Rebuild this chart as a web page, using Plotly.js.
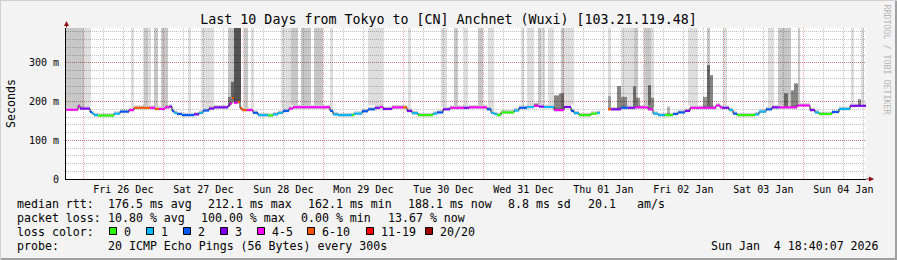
<!DOCTYPE html>
<html><head><meta charset="utf-8">
<script src="https://cdn.plot.ly/plotly-3.0.1.min.js"></script>
<style>html,body{margin:0;padding:0;background:#f3f3f3;}#chart{width:897px;height:260px;}</style>
</head><body><div id="chart"></div>
<script>
// ---------------- DATA (x = hours since Fri 26 Dec 00:00) ----------------
const windowStart = -5.2, windowEnd = 234.8;
const dayLabels = ['Fri 26 Dec','Sat 27 Dec','Sun 28 Dec','Mon 29 Dec','Tue 30 Dec','Wed 31 Dec','Thu 01 Jan','Fri 02 Jan','Sat 03 Jan','Sun 04 Jan'];
const dayNoon = [12,36,60,84,108,132,156,180,204,228];
const yTickVals = [0,100,200,300];
const yTickText = ['0','100 m','200 m','300 m'];

// median rtt segments (start hour, ms, loss class index)
const segStart = [-5.2,-1.6,-1.0,2.0,2.6,3.2,4.4,9.2,11.0,13.7,
 15.2,20.0,21.5,22.7,24.5,25.8,26.6,27.2,28.1,29.6,
 33.2,34.7,35.9,37.7,39.2,43.4,43.9,44.6,45.2,46.3,
 47.0,47.6,49.1,50.9,52.4,55.4,56.9,58.4,59.9,61.7,
 62.9,74.0,74.9,76.4,80.6,81.2,83.6,85.4,87.5,89.0,
 89.9,92.6,95.9,97.1,98.6,100.4,104.9,106.1,107.9,110.0,
 114.2,115.7,121.1,122.3,123.2,124.1,125.3,129.2,130.7,133.1,
 135.2,136.7,138.2,141.2,144.2,146.3,147.2,148.7,152.3,154.1,
 155.0,157.4,158.3,161.3,163.4,165.5,169.4,170.9,172.4,174.5,
 176.9,178.4,180.5,182.0,189.8,191.0,191.6,193.7,194.9,196.1,
 201.5,202.7,204.8,206.6,208.7,214.1,218.0,219.5,220.7,224.6,
 226.7,230.0];
const segMedian = [179,188,182,173,169,165,164,169,174,178,
 184,184,181,181,185,187,176,171,168,165,
 167,171,177,182,185,189,195,209,197,199,
 183,178,178,171,165,164,167,171,176,182,
 185,176,167,165,165,169,175,180,184,186,
 181,185,185,176,170,165,169,172,180,184,
 184,185,180,171,168,165,172,177,184,186,
 189,187,186,178,186,176,170,165,169,171,
 null,180,180,184,184,185,180,169,165,165,
 168,172,176,184,190,185,184,178,169,165,
 167,174,180,185,185,190,178,172,168,173,
 181,189];
const segLoss = [4,4,3,2,1,1,0,1,2,4,
 5,4,5,4,4,3,2,1,2,2,
 3,1,2,3,3,3,4,5,4,5,
 5,5,4,2,1,0,1,1,2,4,
 4,2,1,1,0,1,2,2,3,4,
 3,4,5,3,1,0,1,2,3,4,
 3,4,2,1,1,0,0,1,2,1,
 4,3,1,4,3,2,1,0,0,1,
 0,5,3,2,3,4,4,1,1,0,
 2,2,3,4,4,4,3,1,2,0,
 1,1,2,3,4,4,3,1,0,2,
 1,3];

// periods with lost pings (smoke reaching the top), shade level 1 light / 2 medium
const lossStart = [-5.2,0.2,14.3,18.2,19.4,21.2,23.3,31.4,35.3,43.4,44.3,48.2,50.3,59.3,62.3,65.3,69.2,74.0,85.4,97.4,107.3,111.2,114.2,118.4,121.4,131.3,133.1,136.4,137.3,139.4,143.3,144.2,157.4,161.3,165.2,168.2,170.3,181.4,187.1,191.9,205.4,208.4,214.4,230.3,233.3];
const lossEnd = [0.2,2.3,15.2,19.4,20.3,22.4,25.4,32.3,39.2,44.3,47.3,49.4,51.2,62.3,64.4,68.3,71.9,74.9,89.9,98.3,109.1,112.4,115.4,119.9,123.2,132.2,135.2,137.3,138.5,141.2,144.2,147.2,158.3,165.2,166.4,170.3,171.2,184.4,188.0,193.1,207.2,212.3,215.0,231.2,234.2];
const lossLevel = [2,1,1,2,1,2,2,1,1,2,2,2,1,1,2,2,2,1,1,1,1,2,1,2,1,1,1,2,1,1,2,1,1,1,2,2,1,1,2,1,1,2,2,1,1];

// high-latency smoke spikes (ms top)
const spikeStart = [43.4,44.3,45.2,135.2,141.2,142.7,157.4,160.1,161.3,164.9,165.8,169.4,170.3,175.1,185.9,187.1,188.0,210.2,212.3,213.2,232.4];
const spikeEnd   = [44.3,45.2,47.3,136.4,142.7,144.2,158.3,161.3,163.1,165.8,167.0,170.3,171.2,176.0,187.1,188.0,188.9,211.4,213.2,214.4,233.3];
const spikeTop   = [212,251,390,195,216,221,214,240,212,239,210,242,210,187,212,294,268,221,229,247,206];
const spikeLevel = [2,3,4,2,3,3,1,3,2,3,2,3,2,1,2,3,3,3,3,3,3];

const lossNames = ['0','1','2','3','4-5','6-10','11-19','20/20'];
const lossColors = ['#26ff00','#00b8ff','#0059ff','#7e00ff','#ff00ff','#ff5500','#ff0000','#a10000'];

const titleText = 'Last 10 Days from Tokyo to [CN] Anchnet (Wuxi) [103.21.119.48]';
const rttStats = ['median rtt:','176.5 ms avg','212.1 ms max','162.1 ms min','188.1 ms now','8.8 ms sd','20.1','am/s'];
const lossStats = ['packet loss:','10.80 % avg','100.00 % max','0.00 % min','13.67 % now'];
const probeText = ['probe:','20 ICMP Echo Pings (56 Bytes) every 300s'];
const stampText = 'Sun Jan\u00a0\u00a04 18:40:07 2026';

// ---------------- STYLE / GEOMETRY ----------------
const MONO = '"DejaVu Sans Mono", monospace';
const W = 897, H = 260, L = 66, T = 28, PW = 800, PH = 151;
const SMOKE_DOWN = 4, SMOKE_UP = 6, YMAX = 390;
const lossShade = {1:'rgba(0,0,0,0.13)', 2:'rgba(0,0,0,0.22)'};
const spikeShade = {1:'rgba(0,0,0,0.30)', 2:'rgba(0,0,0,0.40)', 3:'rgba(0,0,0,0.48)', 4:'rgba(0,0,0,0.58)'};
const px2x = p => (p - L) / PW;
const py2y = p => (T + PH - p) / PH;

function segEnd(i){ return i + 1 < segStart.length ? segStart[i+1] : windowEnd; }
function medianAt(h){
  let m = null;
  for (let i = 0; i < segStart.length; i++) { if (segStart[i] <= h) m = segMedian[i]; }
  return m == null ? 180 : m;
}

const traces = [];
// loss columns
(function(){
  const x=[],w=[],b=[],y=[],c=[];
  for (let i=0;i<lossStart.length;i++){
    const base = medianAt((lossStart[i]+lossEnd[i])/2) + SMOKE_UP;
    x.push((lossStart[i]+lossEnd[i])/2); w.push(lossEnd[i]-lossStart[i]);
    b.push(base); y.push(YMAX-base); c.push(lossShade[lossLevel[i]]);
  }
  traces.push({type:'bar',x:x,width:w,base:b,y:y,marker:{color:c,line:{width:0}},hoverinfo:'skip'});
})();
// spikes
(function(){
  const x=[],w=[],b=[],y=[],c=[];
  for (let i=0;i<spikeStart.length;i++){
    const base = medianAt((spikeStart[i]+spikeEnd[i])/2) + 2;
    x.push((spikeStart[i]+spikeEnd[i])/2); w.push(spikeEnd[i]-spikeStart[i]);
    b.push(base); y.push(spikeTop[i]-base); c.push(spikeShade[spikeLevel[i]]);
  }
  traces.push({type:'bar',x:x,width:w,base:b,y:y,marker:{color:c,line:{width:0}},hoverinfo:'skip'});
})();
// smoke band around median
(function(){
  const x=[],w=[],b=[],y=[];
  for (let i=0;i<segStart.length;i++){
    if (segMedian[i]==null) continue;
    const e = segEnd(i);
    x.push((segStart[i]+e)/2); w.push(e-segStart[i]);
    b.push(segMedian[i]-SMOKE_DOWN); y.push(SMOKE_DOWN+SMOKE_UP);
  }
  traces.push({type:'bar',x:x,width:w,base:b,y:y,marker:{color:'rgba(0,0,0,0.2)',line:{width:0}},hoverinfo:'skip'});
})();
// step connectors
(function(){
  const x=[],y=[];
  for (let i=0;i<segStart.length;i++){ x.push(segStart[i]); y.push(segMedian[i]); }
  x.push(windowEnd); y.push(segMedian[segMedian.length-1]);
  traces.push({type:'scatter',mode:'lines',x:x,y:y,line:{shape:'hv',color:'#222',width:1},connectgaps:false,hoverinfo:'skip'});
})();
// coloured median by loss class
for (let k=0;k<lossColors.length;k++){
  const x=[],y=[];
  for (let i=0;i<segStart.length;i++){
    if (segLoss[i]!==k || segMedian[i]==null) continue;
    x.push(segStart[i], segEnd(i), null); y.push(segMedian[i], segMedian[i], null);
  }
  if (x.length) traces.push({type:'scatter',mode:'lines',x:x,y:y,line:{color:lossColors[k],width:2},hoverinfo:'skip'});
}
// carrier for the label axis
traces.push({type:'scatter',mode:'markers',x:[dayNoon[0]],y:[0],xaxis:'x2',marker:{opacity:0},hoverinfo:'skip'});

// ---------------- ANNOTATIONS / SHAPES ----------------
const ann = [];
function txt(s, px, py, o){
  o = o || {};
  ann.push(Object.assign({text:s, x:px2x(px), y:py2y(py), xref:'paper', yref:'paper', showarrow:false,
    xanchor:'left', yanchor:'middle', font:{family:MONO, size:11.6, color:'#000'}, borderpad:0}, o));
}
const rttX = [16,107,207,307,407,507,587,636];
rttStats.forEach((s,i)=>txt(s, rttX[i], 204));
const lossX = [16,107,200,300,387];
lossStats.forEach((s,i)=>txt(s, lossX[i], 218));
txt('loss color:', 16, 232);
const boxX = [109,146,183,220,257,307,366,425];
const shapes = [];
lossNames.forEach((s,i)=>{
  txt(s, boxX[i]+14, 232);
  shapes.push({type:'rect', xref:'paper', yref:'paper', x0:px2x(boxX[i]+0.5), x1:px2x(boxX[i]+7.5), y0:py2y(234.5), y1:py2y(227.5),
    fillcolor:lossColors[i], line:{color:'#000', width:1}});
});
txt(probeText[0], 16, 246);
txt(probeText[1], 107, 246);
txt(stampText, 880, 246, {xanchor:'right'});
// y title
ann.push({text:'Seconds', x:px2x(11), y:py2y(103), xref:'paper', yref:'paper', showarrow:false, textangle:-90,
  xanchor:'center', yanchor:'middle', font:{family:MONO, size:11.6, color:'#000'}});
// watermark
ann.push({text:'RRDTOOL / TOBI OETIKER', x:px2x(886.5), y:py2y(59), xref:'paper', yref:'paper', showarrow:false, textangle:90,
  xanchor:'center', yanchor:'middle', font:{family:MONO, size:8.3, color:'#b4b4b4'}});
// axis arrows
ann.push({text:'', x:px2x(66.5), y:py2y(21), xref:'paper', yref:'paper', showarrow:true, ax:0, ay:8,
  arrowhead:2, arrowsize:1, arrowwidth:1, arrowcolor:'#8b1010', standoff:0});
ann.push({text:'', x:px2x(874), y:py2y(179), xref:'paper', yref:'paper', showarrow:true, ax:-9, ay:0,
  arrowhead:2, arrowsize:1, arrowwidth:1, arrowcolor:'#8b1010', standoff:0});
// frame
shapes.push({type:'line', xref:'paper', yref:'paper', x0:px2x(0), x1:px2x(W), y0:py2y(259), y1:py2y(259), line:{color:'#a0a0a0', width:2}});
shapes.push({type:'line', xref:'paper', yref:'paper', x0:px2x(896), x1:px2x(896), y0:py2y(0), y1:py2y(H), line:{color:'#a0a0a0', width:2}});
shapes.push({type:'line', xref:'paper', yref:'paper', x0:px2x(0), x1:px2x(W), y0:py2y(0.5), y1:py2y(0.5), line:{color:'#d0d0d0', width:1}});
shapes.push({type:'line', xref:'paper', yref:'paper', x0:px2x(0.5), x1:px2x(0.5), y0:py2y(0), y1:py2y(H), line:{color:'#d0d0d0', width:1}});

const gridMajor = 'rgba(230,0,0,0.35)', gridMinor = 'rgba(140,140,140,0.55)';
const layout = {
  width:W, height:H,
  margin:{l:L, r:W-L-PW, t:T, b:H-T-PH, pad:0},
  paper_bgcolor:'#f3f3f3', plot_bgcolor:'#ffffff',
  showlegend:false, hovermode:false, barmode:'overlay', dragmode:false,
  title:{text:titleText, x:0.5, xref:'container', xanchor:'center', y:1-19.3/H, yref:'container', yanchor:'middle',
    font:{family:MONO, size:13.3, color:'#000'}},
  xaxis:{range:[windowStart, windowEnd], tickmode:'linear', tick0:0, dtick:24, showticklabels:false, ticks:'',
    showgrid:true, gridcolor:gridMajor, griddash:'1px,1px', gridwidth:1,
    minor:{tick0:0, dtick:6, showgrid:true, gridcolor:gridMinor, griddash:'1px,1px', gridwidth:1, ticks:''},
    zeroline:false, showline:true, linecolor:'#000', linewidth:1, fixedrange:true},
  xaxis2:{overlaying:'x', anchor:'y', side:'bottom', range:[windowStart, windowEnd], tickmode:'array',
    tickvals:dayNoon, ticktext:dayLabels, showgrid:false, zeroline:false, showline:false, ticks:'',
    tickfont:{family:MONO, size:10, color:'#000'}, ticklabelstandoff:3, fixedrange:true},
  yaxis:{range:[0, YMAX], tickmode:'array', tickvals:yTickVals, ticktext:yTickText, ticks:'',
    showgrid:true, gridcolor:gridMajor, griddash:'1px,1px', gridwidth:1,
    minor:{tick0:0, dtick:20, showgrid:true, gridcolor:gridMinor, griddash:'1px,1px', gridwidth:1, ticks:''},
    zeroline:false, showline:true, linecolor:'#000', linewidth:1,
    tickfont:{family:MONO, size:10, color:'#000'}, ticklabelstandoff:4, fixedrange:true},
  annotations:ann, shapes:shapes
};
Plotly.newPlot('chart', traces, layout, {staticPlot:true, displayModeBar:false});
</script></body></html>
